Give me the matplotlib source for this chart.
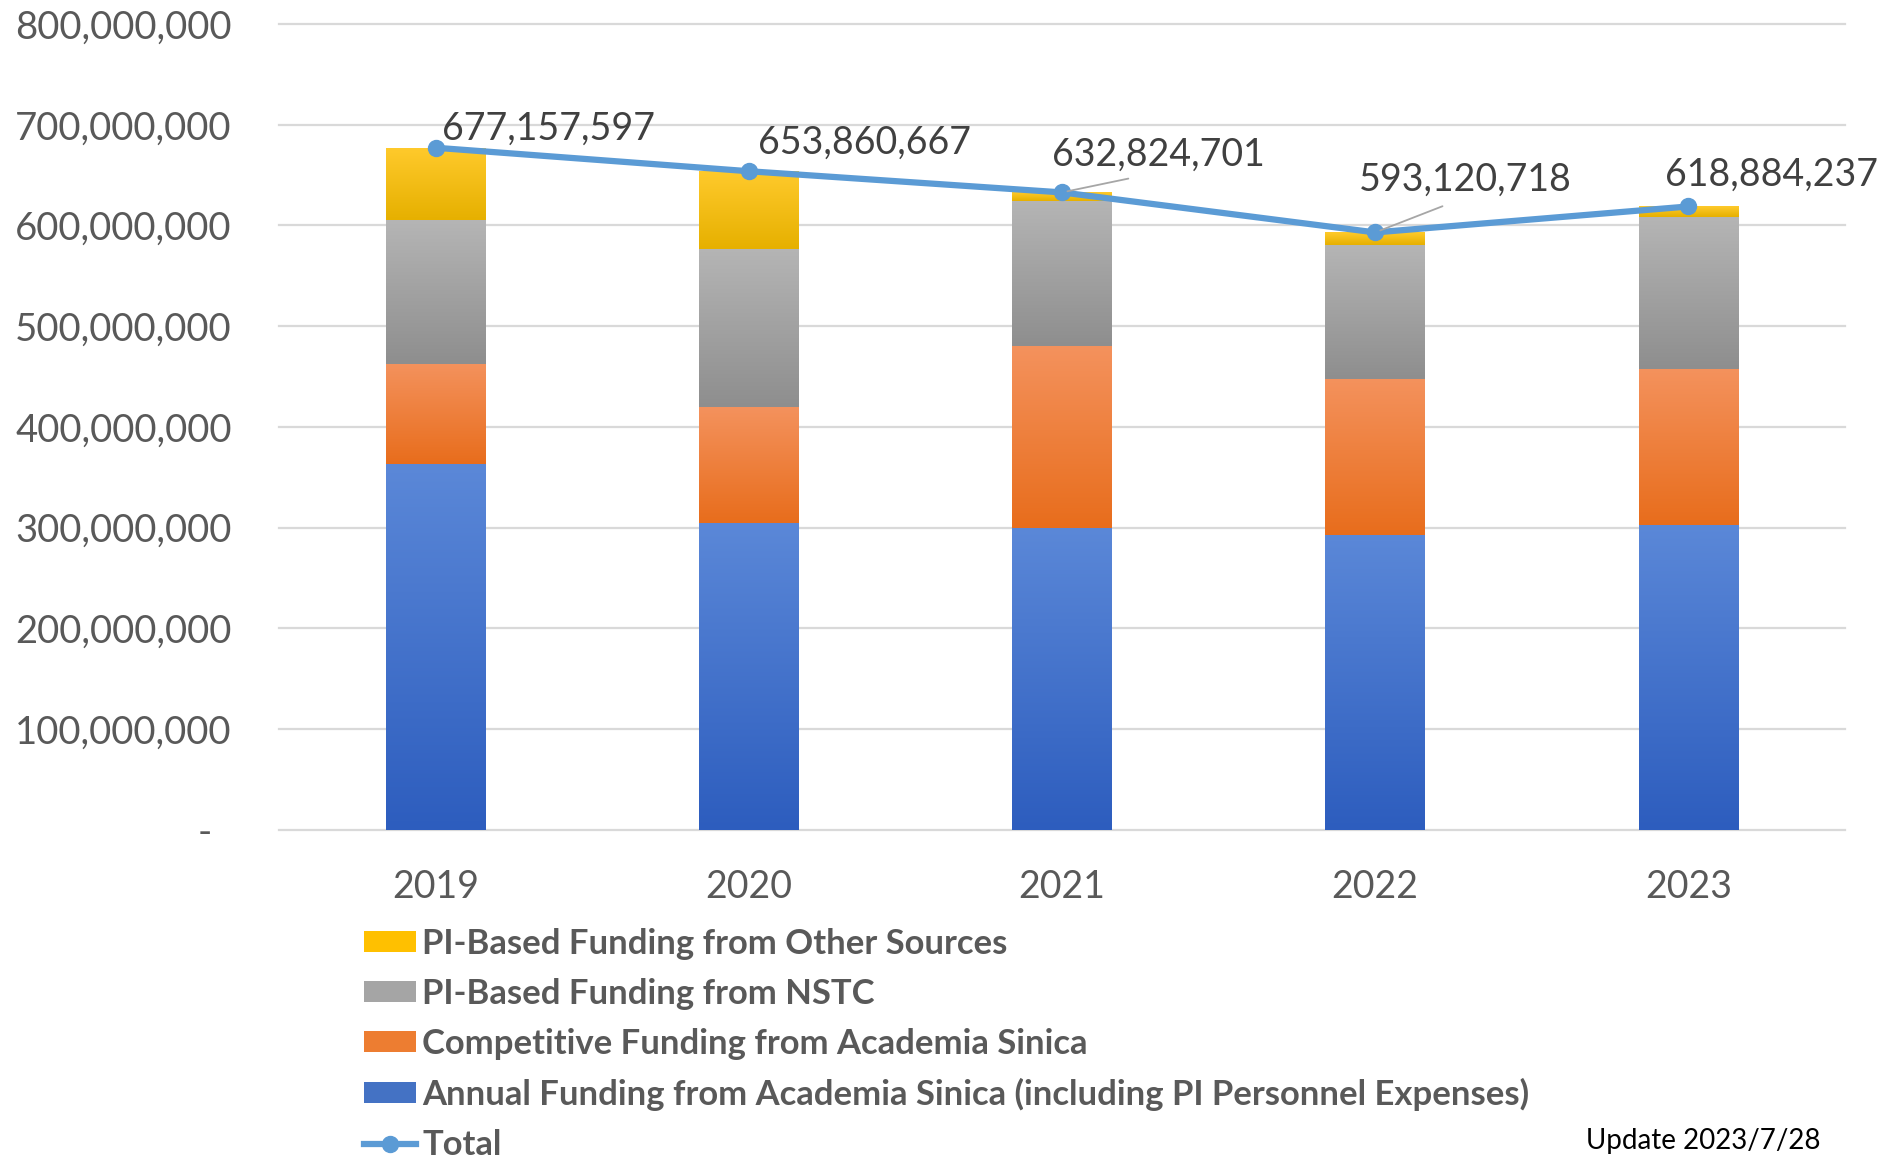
import numpy as np
import matplotlib
matplotlib.use("Agg")
import matplotlib.pyplot as plt
from matplotlib.colors import LinearSegmentedColormap
from matplotlib.patches import Patch
from matplotlib.lines import Line2D
from matplotlib.ticker import FuncFormatter, MultipleLocator

plt.rcParams["font.family"] = ["Lato", "DejaVu Sans"]

# ── Data ──────────────────────────────────────────────────────────────────────
years = ["2019", "2020", "2021", "2022", "2023"]
annual = [363e6, 305e6, 300e6, 293e6, 303e6]
competitive = [100e6, 115e6, 180e6, 155e6, 155e6]
nstc = [142e6, 157e6, 144e6, 133e6, 150e6]
other = [72.2e6, 76.9e6, 8.8e6, 12.1e6, 10.9e6]
total = [677157597, 653860667, 632824701, 593120718, 618884237]

names = [
    "Annual Funding from Academia Sinica (including PI Personnel Expenses)",
    "Competitive Funding from Academia Sinica",
    "PI-Based Funding from NSTC",
    "PI-Based Funding from Other Sources",
]

# (top, bottom) gradient colours per series
GRAD = [
    ("#5B88D8", "#2D5DBE"),
    ("#F4925D", "#E86D1C"),
    ("#B5B5B5", "#8E8E8E"),
    ("#FFCA2C", "#E6B000"),
]
FLAT = ["#4472C4", "#ED7D31", "#A5A5A5", "#FFC000"]
LINE_C = "#5B9BD5"
TXT = "#595959"

fig = plt.figure(figsize=(19.01, 11.65), dpi=100, facecolor="white")
ax = fig.add_axes([0.1468, 0.2876, 0.8237, 0.6918])

x = np.arange(len(years))
BW = 0.318


def shade(bars, top, bottom):
    cmap = LinearSegmentedColormap.from_list("", [bottom, top])
    grad = np.linspace(0, 1, 256).reshape(-1, 1)
    for b in bars:
        x0, y0 = b.get_x(), b.get_y()
        w, h = b.get_width(), b.get_height()
        im = ax.imshow(grad, cmap=cmap, origin="lower", aspect="auto",
                       extent=[x0, x0 + w, y0, y0 + h], zorder=2,
                       interpolation="bicubic")
        im.set_clip_path(b)


bottom = np.zeros(len(years))
for vals, (top_c, bot_c), flat in zip([annual, competitive, nstc, other], GRAD, FLAT):
    bars = ax.bar(x, vals, BW, bottom=bottom, color=flat, lw=0, zorder=2)
    shade(bars, top_c, bot_c)
    bottom += np.array(vals)

ax.plot(x, total, color=LINE_C, lw=4.5, marker="o", ms=11.5, zorder=4,
        solid_capstyle="round")

# ── Data labels ───────────────────────────────────────────────────────────────
offsets = [(113, 19), (116, 28), (96, 38), (90, 53), (83, 32)]
leader = [False, False, True, True, False]
for xi, t, (dx, dy), ld in zip(x, total, offsets, leader):
    kw = {}
    if ld:
        kw["arrowprops"] = dict(arrowstyle="-", color="#A6A6A6", lw=1.3,
                                relpos=(0.5, 0.0), shrinkA=12, shrinkB=4)
    ax.annotate(f"{t:,}", xy=(xi, t), xytext=(dx, dy),
                textcoords="offset pixels", ha="center", va="center",
                fontsize=27, color="#404040", zorder=5, **kw)

# ── Axes styling ──────────────────────────────────────────────────────────────
ax.set_xlim(-0.5, 4.5)
ax.set_ylim(0, 800e6)
ax.yaxis.set_major_locator(MultipleLocator(100e6))
ax.yaxis.set_major_formatter(FuncFormatter(
    lambda v, p: "-  " if v == 0 else f"{v:,.0f}"))
ax.set_xticks(x, years)
for s in ax.spines.values():
    s.set_visible(False)
ax.grid(axis="y", color="#D9D9D9", lw=1.6, zorder=0)
ax.set_axisbelow(True)
ax.tick_params(axis="y", length=0, pad=34, labelsize=27.5, labelcolor=TXT)
ax.tick_params(axis="x", length=0, pad=28, labelsize=27, labelcolor=TXT)
for gl in ax.get_ygridlines():
    gl.set_clip_on(False)

# ── Legend ────────────────────────────────────────────────────────────────────
handles = [Patch(fc=FLAT[3]), Patch(fc=FLAT[2]), Patch(fc=FLAT[1]), Patch(fc=FLAT[0]),
           Line2D([], [], color=LINE_C, lw=4.5, marker="o", ms=11.5)]
labels = [names[3], names[2], names[1], names[0], "Total"]
leg = fig.legend(handles, labels, loc="upper left",
                 bbox_to_anchor=(364 / 1901, 1 - 928 / 1165),
                 frameon=False, borderaxespad=0, borderpad=0,
                 prop=dict(weight="bold", size=24.9), labelcolor=TXT,
                 handlelength=1.5, handleheight=0.55, handletextpad=0.18,
                 labelspacing=0.52)

fig.text(1586 / 1901, 1 - 1141 / 1165, "Update 2023/7/28", ha="left",
         va="center", fontsize=20, color="black")

fig.savefig("out.png", dpi=100, facecolor="white")
